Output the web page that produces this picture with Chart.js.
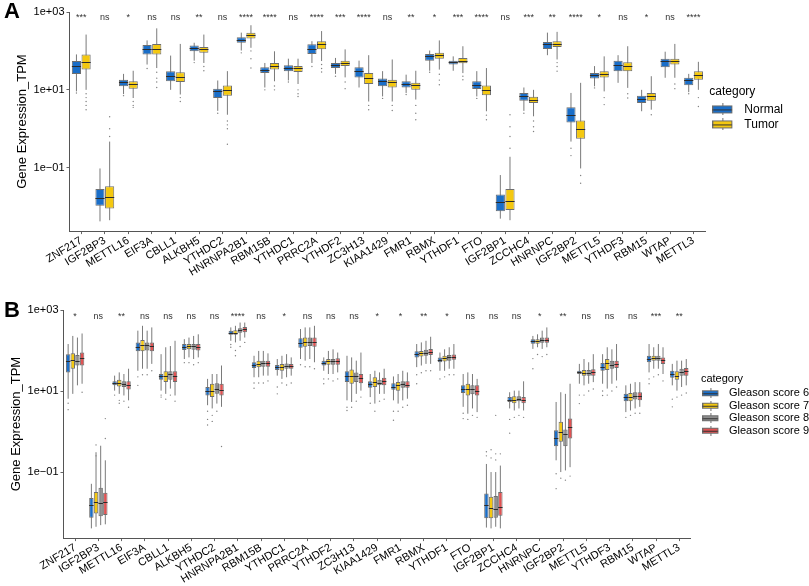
<!DOCTYPE html>
<html>
<head>
<meta charset="utf-8">
<script src="https://cdn.jsdelivr.net/npm/chart.js@4.4.1/dist/chart.umd.min.js"></script>
<style>
  body { margin: 0; background: #fff; width: 809px; height: 586px; overflow: hidden; font-family: "Liberation Sans", Arial, sans-serif; }
  .panel { position: absolute; left: 0; width: 809px; }
  #boxA { top: 0; height: 293px; }
  #boxB { top: 300px; height: 286px; }
  .tag { position: absolute; left: 4px; font-weight: bold; font-size: 22px; line-height: 22px; }
</style>
</head>
<body>
<div class="panel" id="boxA"><canvas id="chartA"></canvas></div>
<div class="panel" id="boxB"><canvas id="chartB"></canvas></div>
<div class="tag" style="top:0px">A</div>
<div class="tag" style="top:299px">B</div>
<script>
const genes = ["ZNF217", "IGF2BP3", "METTL16", "EIF3A", "CBLL1", "ALKBH5", "YTHDC2", "HNRNPA2B1",
  "RBM15B", "YTHDC1", "PRRC2A", "YTHDF2", "ZC3H13", "KIAA1429", "FMR1", "RBMX", "YTHDF1", "FTO",
  "IGF2BP1", "ZCCHC4", "HNRNPC", "IGF2BP2", "METTL5", "YTHDF3", "RBM15", "WTAP", "METTL3"];

const yTickValues = [0.1, 10, 1000];
const yTickLabels = ["1e\u221201", "1e+01", "1e+03"];

// every box: [lower whisker, Q1, median, Q3, upper whisker], in log10(TPM)
const normalA = [
  [0.96, 1.41, 1.61, 1.74, 1.91], [-2.38, -1.98, -1.79, -1.55, -1.02], [0.89, 1.09, 1.19, 1.26, 1.41],
  [1.65, 1.91, 2.05, 2.15, 2.27], [1.0, 1.22, 1.35, 1.48, 1.88], [1.75, 1.99, 2.08, 2.14, 2.21],
  [0.46, 0.79, 0.96, 1.03, 1.24], [2.01, 2.21, 2.29, 2.35, 2.47], [1.06, 1.43, 1.52, 1.58, 1.69],
  [1.24, 1.48, 1.56, 1.63, 1.80], [1.69, 1.92, 2.06, 2.17, 2.25], [1.41, 1.56, 1.63, 1.69, 1.82],
  [1.06, 1.32, 1.48, 1.58, 1.75], [0.83, 1.09, 1.22, 1.29, 1.48], [0.92, 1.06, 1.15, 1.22, 1.39],
  [1.49, 1.75, 1.86, 1.92, 2.01], [1.49, 1.65, 1.71, 1.75, 1.86], [0.83, 1.02, 1.13, 1.22, 1.48],
  [-2.31, -2.12, -1.88, -1.69, -1.19], [0.46, 0.72, 0.83, 0.92, 1.06], [1.89, 2.05, 2.17, 2.23, 2.47],
  [-0.33, 0.16, 0.36, 0.55, 0.92], [1.09, 1.29, 1.37, 1.43, 1.61], [1.18, 1.48, 1.63, 1.75, 1.89],
  [0.45, 0.66, 0.77, 0.85, 1.0], [1.31, 1.58, 1.74, 1.80, 1.98], [0.94, 1.12, 1.24, 1.31, 1.41]
];
const tumorA = [
  [1.0, 1.52, 1.71, 1.91, 2.42], [-2.35, -2.05, -1.75, -1.48, -0.33], [0.79, 1.03, 1.15, 1.22, 1.49],
  [1.56, 1.91, 2.05, 2.18, 2.58], [0.88, 1.20, 1.32, 1.45, 2.18], [1.69, 1.95, 2.04, 2.10, 2.42],
  [0.36, 0.85, 1.0, 1.11, 1.48], [2.08, 2.32, 2.41, 2.47, 2.66], [1.22, 1.52, 1.62, 1.69, 1.99],
  [1.15, 1.46, 1.55, 1.61, 1.80], [1.74, 2.04, 2.17, 2.25, 2.51], [1.32, 1.61, 1.69, 1.75, 2.04],
  [0.70, 1.15, 1.31, 1.43, 1.89], [0.70, 1.06, 1.19, 1.26, 1.78], [0.75, 1.0, 1.12, 1.18, 1.49],
  [1.52, 1.80, 1.89, 1.95, 2.27], [1.43, 1.68, 1.75, 1.82, 2.12], [0.45, 0.86, 1.0, 1.11, 1.56],
  [-2.35, -2.09, -1.85, -1.55, -0.72], [0.32, 0.66, 0.75, 0.82, 1.0], [1.78, 2.10, 2.18, 2.25, 2.49],
  [-1.02, -0.26, -0.01, 0.21, 1.18], [0.96, 1.32, 1.41, 1.48, 1.86], [1.05, 1.48, 1.61, 1.71, 2.12],
  [0.49, 0.72, 0.83, 0.92, 1.35], [1.31, 1.65, 1.74, 1.80, 2.18], [1.0, 1.26, 1.39, 1.48, 1.72]
];
const normalAOut = [[0.92], [], [0.85], [1.55], [], [1.7], [0.4], [1.95], [1.0], [1.2], [1.6], [1.35], [],
  [0.78], [0.88], [1.45], [], [0.78], [], [0.4], [], [-0.5, -0.69], [1.05], [], [], [], [0.9]];
const tumorAOut = [[0.9, 0.8, 0.7, 0.6, 0.49], [-0.2, 0.0, 0.31], [0.7, 0.6, 0.55], [1.45, 1.3, 1.2, 1.06],
  [0.8, 0.7], [1.6, 1.49], [0.2, 0.1, 0.0, -0.4], [2.0, 1.8, 1.56], [1.1, 1.0], [1.0, 0.9, 0.83],
  [1.65, 1.55, 1.46], [1.2, 1.03], [0.6, 0.49], [0.6, 0.47], [0.6, 0.4, 0.23], [1.4, 1.25, 1.13],
  [1.35, 1.26], [0.35, 0.23], [-0.5, -0.2, 0.05, 0.36], [0.2, 0.05, -0.07], [1.7, 1.6, 1.48],
  [-1.2, -1.4], [0.8, 0.62], [0.9, 0.79], [0.36], [1.15, 1.03], [0.8, 0.57]];
const sigA = ["***", "ns", "*", "ns", "ns", "**", "ns", "****", "****", "ns", "****", "***", "****", "ns",
  "**", "*", "***", "****", "ns", "***", "**", "****", "*", "ns", "*", "ns", "****"];

const gleason6 = [
  [0.81, 1.46, 1.75, 1.91, 2.16], [-2.39, -2.13, -1.82, -1.64, -1.29], [1.01, 1.14, 1.19, 1.24, 1.38],
  [1.50, 1.98, 2.09, 2.20, 2.49], [1.01, 1.28, 1.36, 1.42, 1.91], [1.79, 2.01, 2.09, 2.16, 2.28],
  [0.65, 0.89, 1.0, 1.10, 1.30], [2.24, 2.39, 2.44, 2.49, 2.57], [1.34, 1.57, 1.64, 1.71, 1.87],
  [1.38, 1.52, 1.59, 1.64, 1.79], [1.79, 2.07, 2.19, 2.30, 2.53], [1.50, 1.63, 1.69, 1.75, 1.83],
  [0.77, 1.22, 1.38, 1.49, 1.87], [0.85, 1.08, 1.18, 1.24, 1.42], [0.77, 1.03, 1.11, 1.19, 1.36],
  [1.59, 1.83, 1.91, 1.98, 2.16], [1.50, 1.71, 1.77, 1.83, 1.95], [0.61, 0.95, 1.06, 1.14, 1.42],
  [-2.37, -2.14, -1.82, -1.53, -0.80], [0.57, 0.73, 0.79, 0.85, 0.97], [2.04, 2.17, 2.23, 2.28, 2.36],
  [-0.71, -0.36, -0.15, 0.03, 0.73], [1.18, 1.42, 1.46, 1.50, 1.67], [1.18, 1.50, 1.60, 1.69, 1.91],
  [0.48, 0.75, 0.85, 0.93, 1.14], [1.46, 1.71, 1.79, 1.87, 2.16], [1.14, 1.33, 1.42, 1.50, 1.67]
];
const gleason7 = [
  [0.93, 1.55, 1.77, 1.93, 2.36], [-2.35, -2.02, -1.74, -1.49, -0.51], [0.93, 1.11, 1.21, 1.28, 1.46],
  [1.55, 1.98, 2.13, 2.26, 2.61], [0.93, 1.22, 1.38, 1.49, 2.08], [1.83, 2.03, 2.10, 2.16, 2.32],
  [0.57, 0.85, 1.01, 1.18, 1.42], [2.20, 2.39, 2.44, 2.50, 2.61], [1.34, 1.59, 1.67, 1.75, 1.99],
  [1.30, 1.50, 1.60, 1.67, 1.87], [1.75, 2.09, 2.22, 2.32, 2.57], [1.42, 1.65, 1.73, 1.79, 1.99],
  [0.73, 1.18, 1.38, 1.53, 1.83], [0.69, 1.10, 1.22, 1.34, 1.50], [0.69, 1.01, 1.14, 1.22, 1.42],
  [1.63, 1.85, 1.93, 1.99, 2.20], [1.50, 1.73, 1.81, 1.87, 2.03], [0.44, 0.89, 1.06, 1.18, 1.46],
  [-2.39, -2.14, -1.88, -1.61, -1.0], [0.52, 0.70, 0.79, 0.87, 1.01], [2.08, 2.17, 2.23, 2.28, 2.40],
  [-1.0, -0.25, -0.01, 0.24, 0.97], [1.14, 1.38, 1.45, 1.52, 1.79], [1.06, 1.52, 1.68, 1.79, 2.08],
  [0.52, 0.75, 0.85, 0.95, 1.18], [1.55, 1.75, 1.82, 1.87, 2.08], [1.01, 1.28, 1.38, 1.49, 1.75]
];
const gleason8 = [
  [1.14, 1.63, 1.75, 1.89, 2.32], [-2.31, -2.09, -1.76, -1.39, -0.35], [0.89, 1.10, 1.18, 1.24, 1.42],
  [1.55, 2.0, 2.13, 2.20, 2.49], [1.06, 1.28, 1.41, 1.49, 2.11], [1.79, 2.02, 2.11, 2.16, 2.36],
  [0.69, 0.93, 1.06, 1.19, 1.42], [2.24, 2.44, 2.50, 2.55, 2.69], [1.38, 1.60, 1.68, 1.75, 1.99],
  [1.34, 1.55, 1.63, 1.68, 1.91], [1.79, 2.11, 2.22, 2.32, 2.57], [1.42, 1.65, 1.73, 1.79, 2.03],
  [0.93, 1.22, 1.38, 1.46, 1.75], [0.93, 1.14, 1.21, 1.28, 1.46], [0.77, 1.08, 1.18, 1.24, 1.50],
  [1.67, 1.87, 1.95, 2.02, 2.24], [1.55, 1.75, 1.83, 1.89, 2.08], [0.57, 0.92, 1.06, 1.14, 1.42],
  [-2.35, -2.13, -1.90, -1.59, -1.0], [0.57, 0.75, 0.81, 0.87, 1.01], [2.04, 2.19, 2.26, 2.32, 2.49],
  [-0.96, -0.36, -0.05, 0.05, 0.93], [1.18, 1.38, 1.45, 1.52, 1.71], [1.18, 1.55, 1.65, 1.75, 2.03],
  [0.57, 0.79, 0.88, 0.97, 1.22], [1.55, 1.75, 1.82, 1.87, 2.16], [1.10, 1.38, 1.46, 1.55, 1.75]
];
const gleason9 = [
  [1.18, 1.63, 1.82, 1.95, 2.42], [-2.29, -2.06, -1.75, -1.51, -0.71], [0.77, 1.04, 1.16, 1.24, 1.55],
  [1.67, 1.98, 2.12, 2.20, 2.57], [0.89, 1.22, 1.38, 1.49, 2.24], [1.83, 2.0, 2.09, 2.16, 2.40],
  [0.61, 0.89, 1.03, 1.18, 1.63], [2.32, 2.45, 2.53, 2.58, 2.69], [1.38, 1.60, 1.69, 1.75, 1.93],
  [1.38, 1.55, 1.61, 1.67, 1.83], [1.71, 2.09, 2.22, 2.32, 2.61], [1.46, 1.65, 1.73, 1.81, 1.95],
  [1.01, 1.19, 1.32, 1.42, 1.95], [0.93, 1.14, 1.24, 1.33, 1.55], [0.81, 1.08, 1.16, 1.24, 1.46],
  [1.67, 1.89, 1.97, 2.04, 2.34], [1.55, 1.77, 1.83, 1.90, 2.16], [0.48, 0.89, 1.01, 1.14, 1.30],
  [-2.39, -2.08, -1.86, -1.49, -0.84], [0.52, 0.70, 0.79, 0.85, 1.24], [2.08, 2.19, 2.26, 2.32, 2.57],
  [-0.88, -0.17, 0.12, 0.32, 1.18], [1.22, 1.38, 1.46, 1.54, 1.91], [1.26, 1.57, 1.67, 1.75, 2.16],
  [0.61, 0.77, 0.87, 0.97, 1.22], [1.42, 1.67, 1.77, 1.83, 2.08], [1.14, 1.38, 1.49, 1.57, 1.79]
];
const gleason6Out = [[0.7, 0.54], [], [0.9], [1.35, 1.14], [0.9, 0.85], [1.7], [0.5, 0.3, 0.16], [2.15, 2.08],
  [1.2, 1.07], [1.1, 0.93], [1.65], [1.3, 1.18], [0.6, 0.52], [0.7], [0.5, 0.28], [1.4, 1.18], [1.3],
  [0.45, 0.32], [-0.5, -0.6], [0.3, -0.04], [1.8, 1.55], [-1.04, -1.41], [0.9, 0.69], [1.0, 0.89], [0.35],
  [1.3, 1.18], [0.8, 0.61]];
const gleason7Out = [[], [-0.33, -0.6], [0.77, 0.7], [1.4], [0.8], [1.7], [0.4, 0.25], [2.0, 1.87], [1.2],
  [1.2], [1.6], [1.3], [0.6], [0.5], [0.5], [1.45], [1.35], [0.3], [-0.45, -0.65], [0.35], [1.9], [-1.15],
  [0.9], [0.9], [0.4], [1.35], [0.85]];
const gleason8Out = [[], [], [0.75], [1.4], [0.9], [1.65], [0.5], [2.1], [1.2], [1.15], [1.6], [1.25], [0.75],
  [0.75], [0.6], [1.5], [1.4], [0.4], [0.4, -0.55, -0.7], [0.4], [1.85], [-1.2], [1.0], [1.0], [0.45],
  [1.4], [0.9]];
const gleason9Out = [[0.97], [0.32, -0.17], [0.6], [1.5], [0.75], [1.7], [-0.37], [2.2], [1.25], [1.2], [1.55],
  [1.3], [0.85], [0.8], [0.65], [1.5], [1.4], [0.35], [-0.55], [0.35], [1.9], [-1.1], [1.05], [1.1], [0.45],
  [1.25], [0.95]];
const sigB = ["*", "ns", "**", "ns", "ns", "ns", "ns", "****", "ns", "*", "ns", "ns", "ns", "*",
  "*", "**", "*", "ns", "ns", "ns", "*", "**", "ns", "ns", "ns", "***", "**"];

const FONT = "'Liberation Sans', Arial, sans-serif";
const EDGE = "#6e6e6e";

// little boxplot glyph for the legend (with a blank strip on the right before the text)
function glyph(fill, w, h, gap) {
  const c = document.createElement("canvas");
  c.width = w + gap;
  c.height = h;
  const g = c.getContext("2d");
  g.strokeStyle = EDGE;
  g.lineWidth = 1;
  g.beginPath();
  g.moveTo(Math.round(w / 2) + 0.5, 0);
  g.lineTo(Math.round(w / 2) + 0.5, h);
  g.stroke();
  g.fillStyle = fill;
  g.fillRect(0.5, 2.5, w - 1, h - 5);
  g.strokeRect(0.5, 2.5, w - 1, h - 5);
  g.strokeStyle = "#333";
  g.beginPath();
  g.moveTo(0.5, Math.floor(h / 2) + 0.5);
  g.lineTo(w - 0.5, Math.floor(h / 2) + 0.5);
  g.stroke();
  return c;
}

// whiskers, outliers, medians and significance marks, all placed through the chart scales
const boxplotLook = {
  id: "boxplotLook",
  beforeDatasetsDraw(chart) {
    const { ctx } = chart;
    const y = chart.scales.y;
    ctx.save();
    chart.data.datasets.forEach((ds, i) => {
      chart.getDatasetMeta(i).data.forEach((bar, j) => {
        const s = ds.stats[j];
        ctx.strokeStyle = "#7a7a7a";
        ctx.lineWidth = 1;
        ctx.beginPath();
        ctx.moveTo(bar.x, y.getPixelForValue(10 ** s[0]));
        ctx.lineTo(bar.x, y.getPixelForValue(10 ** s[4]));
        ctx.stroke();
        ctx.fillStyle = "#808080";
        (ds.outliers[j] || []).forEach((v) => {
          ctx.beginPath();
          ctx.arc(bar.x, y.getPixelForValue(10 ** v), 0.7, 0, Math.PI * 2);
          ctx.fill();
        });
      });
    });
    ctx.restore();
  },
  afterDatasetsDraw(chart, args, opts) {
    const { ctx } = chart;
    const x = chart.scales.x;
    const y = chart.scales.y;
    ctx.save();
    chart.data.datasets.forEach((ds, i) => {
      chart.getDatasetMeta(i).data.forEach((bar, j) => {
        const ym = Math.round(y.getPixelForValue(10 ** ds.stats[j][2])) + 0.5;
        ctx.strokeStyle = "#2b2b2b";
        ctx.lineWidth = 1;
        ctx.beginPath();
        ctx.moveTo(bar.x - bar.width / 2, ym);
        ctx.lineTo(bar.x + bar.width / 2, ym);
        ctx.stroke();
      });
    });
    ctx.fillStyle = "#333";
    ctx.font = "9px " + FONT;
    ctx.textAlign = "center";
    ctx.textBaseline = "middle";
    opts.sig.forEach((t, j) => {
      ctx.fillText(t, x.getPixelForValue(j), y.getPixelForValue(opts.sigValue));
    });
    ctx.restore();
  }
};

function boxChart(id, series, sig, cfg) {
  const ctx = document.getElementById(id).getContext("2d");
  return new Chart(ctx, {
    type: "bar",
    data: {
      labels: genes,
      datasets: series.map((s) => ({
        label: s.label,
        data: s.stats.map((b) => [10 ** b[1], 10 ** b[3]]),
        stats: s.stats,
        outliers: s.outliers,
        glyph: glyph(s.color, cfg.glyphW, cfg.glyphH, cfg.glyphGap),
        backgroundColor: s.color,
        borderColor: EDGE,
        borderWidth: 1,
        borderSkipped: false,
        categoryPercentage: cfg.catPct,
        barPercentage: 0.95,
      })),
    },
    options: {
      responsive: true,
      maintainAspectRatio: false,
      animation: false,
      layout: { padding: cfg.padding },
      scales: {
        x: {
          grid: { display: true, drawOnChartArea: false, drawTicks: true, tickLength: 3, color: "#666", offset: false },
          border: { display: true, color: "#555", width: 1 },
          ticks: { color: "#000", font: { family: FONT, size: 11 }, minRotation: 31, maxRotation: 31, autoSkip: false, padding: 0 },
        },
        y: {
          type: "logarithmic",
          min: 10 ** -2.63,
          max: 1000,
          bounds: "data",
          afterBuildTicks: (axis) => {
            axis.ticks = yTickValues.map((v) => ({ value: v }));
          },
          grid: { display: true, drawOnChartArea: false, drawTicks: true, tickLength: 3, color: "#666" },
          border: { display: true, color: "#555", width: 1 },
          ticks: {
            color: "#000",
            font: { family: FONT, size: 11 },
            padding: 2,
            callback: (v, i) => yTickLabels[i],
          },
          title: {
            display: true,
            text: "Gene Expression_TPM",
            color: "#000",
            font: { family: FONT, size: 13 },
            padding: { top: 2, bottom: 1 },
          },
        },
        // empty strip between the panel and the legend
        gap: {
          position: "right",
          display: true,
          grid: { display: false },
          border: { display: false },
          ticks: { display: false },
          afterFit: (scale) => {
            scale.width = cfg.legendShift;
          },
        },
      },
      plugins: {
        tooltip: { enabled: false },
        boxplotLook: { sig: sig, sigValue: 10 ** 2.85 },
        legend: {
          position: "right",
          align: "start",
          title: {
            display: true,
            text: "category",
            color: "#000",
            position: "start",
            font: { family: FONT, size: cfg.legendFont },
            padding: { top: cfg.legendTop, bottom: 0 },
          },
          labels: {
            usePointStyle: true,
            pointStyleWidth: cfg.glyphW + cfg.glyphGap,
            boxHeight: cfg.glyphH,
            color: "#000",
            padding: cfg.legendGap,
            font: { family: FONT, size: cfg.legendFont },
            generateLabels: (chart) =>
              chart.data.datasets.map((ds, i) => ({
                text: ds.label,
                pointStyle: ds.glyph,
                fillStyle: ds.backgroundColor,
                strokeStyle: EDGE,
                lineWidth: 1,
                hidden: false,
                datasetIndex: i,
                fontColor: "#000",
              })),
          },
        },
      },
    },
    plugins: [boxplotLook],
  });
}

boxChart("chartA", [
  { label: "Normal", stats: normalA, outliers: normalAOut, color: "#1a6ec8" },
  { label: "Tumor", stats: tumorA, outliers: tumorAOut, color: "#f4c810" },
], sigA, {
  catPct: 0.82, glyphW: 20, glyphH: 12, glyphGap: 6, legendFont: 12, legendTop: 74, legendGap: 3,
  legendShift: 4, padding: { left: 13, top: 12, right: 16, bottom: 14 },
});

boxChart("chartB", [
  { label: "Gleason score 6", stats: gleason6, outliers: gleason6Out, color: "#1a6ec8" },
  { label: "Gleason score 7", stats: gleason7, outliers: gleason7Out, color: "#f4c810" },
  { label: "Gleason score 8", stats: gleason8, outliers: gleason8Out, color: "#8c8c8c" },
  { label: "Gleason score 9", stats: gleason9, outliers: gleason9Out, color: "#e05252" },
], sigB, {
  catPct: 0.8, glyphW: 16, glyphH: 10, glyphGap: 5, legendFont: 11, legendTop: 63, legendGap: 1.5,
  legendShift: 10, padding: { left: 7, top: 10, right: -10, bottom: 0 },
});
</script>
</body>
</html>
